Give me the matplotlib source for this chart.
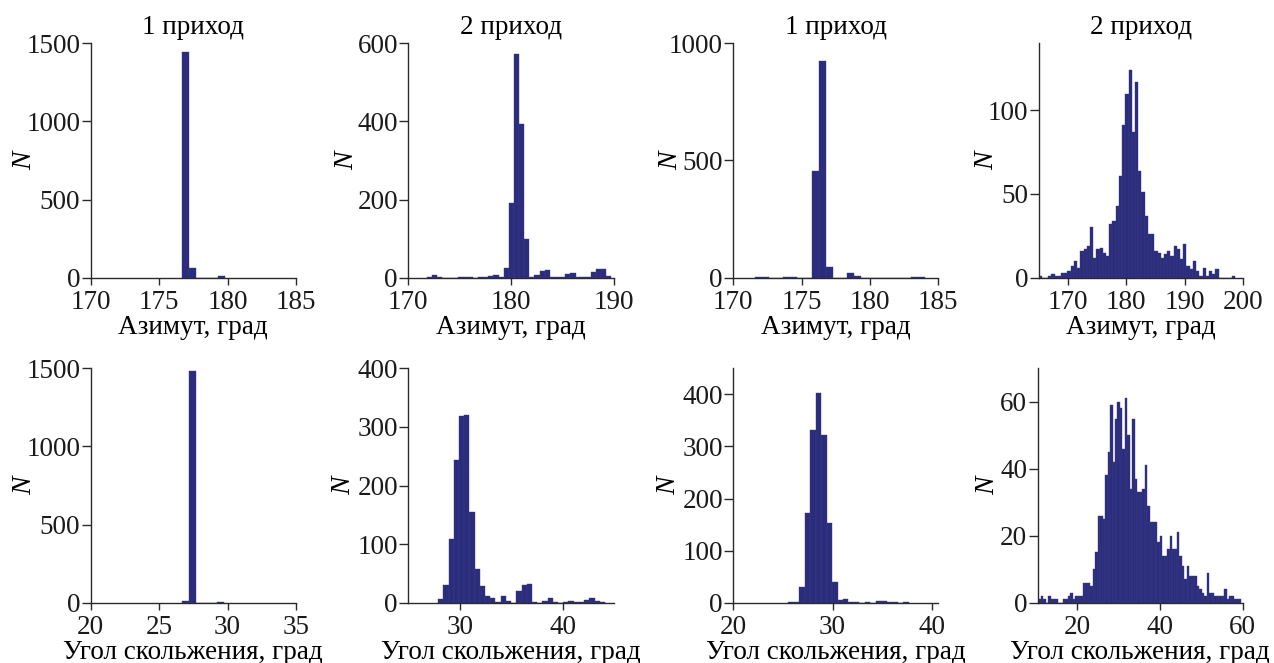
import numpy as np
import matplotlib
matplotlib.use("Agg")
import matplotlib.pyplot as plt

plt.rcParams['font.family'] = ['Liberation Serif', 'DejaVu Serif']
plt.rcParams['font.size'] = 19.5

# ---------------- data (bin start, bin width, counts) ----------------
# Top row: azimuth, deg
az1_start, az1_width = 176.68, 0.52
az1_counts = [1443, 60, 0, 0, 0, 10]

az2_start, az2_width = 171.8, 0.5
az2_counts = [2, 6, 1, 0, 0, 0, 1, 3, 1, 0, 1, 3, 4, 6, 2, 26, 190, 572, 394, 99,
              2, 6, 18, 20, 3, 1, 1, 10, 13, 2, 1, 1, 14, 23, 22, 4]

az3_start, az3_width = 171.57, 0.52
az3_counts = [1, 1, 0, 0, 1, 1, 0, 0, 457, 925, 47, 0, 0, 18, 7, 0, 0, 0, 0, 0,
              0, 0, 3, 2]

az4_start, az4_width = 165.0, 0.55
az4_counts = [1, 0, 0, 1, 2, 1, 1, 3, 3, 4, 7, 10, 6, 16, 17, 19, 30, 12, 17, 18,
              15, 13, 32, 34, 43, 61, 91, 110, 124, 87, 117, 64, 51, 37, 26, 26,
              16, 15, 12, 14, 16, 13, 19, 17, 11, 20, 7, 5, 10, 4, 1, 6, 1, 4, 2,
              5, 0, 0, 0, 0, 1]

# Bottom row: grazing angle, deg
gr1_start, gr1_width = 26.65, 0.52
gr1_counts = [10, 1485, 0, 0, 0, 4]

gr2_start, gr2_width = 27.9, 0.507
gr2_counts = [6, 31, 108, 244, 319, 321, 154, 57, 29, 12, 8, 1, 12, 3, 0, 20, 30,
              32, 2, 0, 3, 8, 1, 0, 2, 3, 2, 1, 4, 8, 3, 1]

gr3_start, gr3_width = 25.55, 0.55
gr3_counts = [1, 1, 31, 172, 331, 403, 321, 153, 40, 5, 8, 1, 1, 0, 1, 0, 4, 3, 1,
              1, 0, 1]

gr4_start, gr4_width = 10.5, 0.6
gr4_counts = [1, 2, 1, 0, 2, 1, 1, 1, 0, 0, 1, 1, 2, 3, 1, 2, 2, 2, 6, 6, 6, 5, 10,
              15, 26, 26, 25, 38, 45, 59, 42, 55, 60, 58, 46, 61, 50, 34, 55, 37,
              33, 33, 34, 41, 29, 24, 24, 24, 18, 20, 14, 14, 16, 20, 16, 16, 21,
              14, 11, 7, 11, 8, 8, 8, 5, 4, 3, 2, 9, 3, 3, 2, 2, 2, 2, 4, 1, 2, 2,
              1, 1, 1]

titles = ["1 приход", "2 приход", "1 приход", "2 приход"]
xlabel_top = "Азимут, град"
xlabel_bottom = "Угол скольжения, град"
ylabel = "N"

xticks_list = [[170, 175, 180, 185], [170, 180, 190], [170, 175, 180, 185], [170, 180, 190, 200],
               [20, 25, 30, 35], [30, 40], [20, 30, 40], [20, 40, 60]]
yticks_list = [[0, 500, 1000, 1500], [0, 200, 400, 600], [0, 500, 1000], [0, 50, 100],
               [0, 500, 1000, 1500], [0, 100, 200, 300, 400], [0, 100, 200, 300, 400], [0, 20, 40, 60]]
xlims = [(170, 185), (170, 190), (170, 185), (165, 200),
         (20, 35), (25, 45), (20, 40.65), (10.4, 60)]
ylims = [(0, 1500), (0, 600), (0, 1000), (0, 140),
         (0, 1500), (0, 400), (0, 450), (0, 70)]

panels = [(az1_start, az1_width, az1_counts), (az2_start, az2_width, az2_counts),
          (az3_start, az3_width, az3_counts), (az4_start, az4_width, az4_counts),
          (gr1_start, gr1_width, gr1_counts), (gr2_start, gr2_width, gr2_counts),
          (gr3_start, gr3_width, gr3_counts), (gr4_start, gr4_width, gr4_counts)]

# ---------------- layout ----------------
W, H = 1274, 663
fig = plt.figure(figsize=(W / 100, H / 100), dpi=100)

xs = [(90.7, 296), (408.3, 613.5), (733.3, 938.3), (1038.5, 1243.2),
      (90.7, 296), (408.3, 614), (733.3, 938.3), (1037.7, 1242.7)]
ys = [(43.3, 277.7)] * 4 + [(368.3, 602.7)] * 4
# distance (px) of the N label anchor to the left of the y spine
ylab_off = [53, 49, 50, 39.5, 53, 52, 52, 37]

bar_color = '#2b2d7c'
edge_color = '#3a3c8a'
spine_color = '#2a2a2a'

for i, (start, width, counts) in enumerate(panels):
    x0, x1 = xs[i]
    y0, y1 = ys[i]
    ax = fig.add_axes([x0 / W, 1 - y1 / H, (x1 - x0) / W, (y1 - y0) / H])
    edges = start + width * np.arange(len(counts))
    ax.bar(edges, counts, width=width, align='edge', color=bar_color,
           edgecolor=edge_color, linewidth=0.3, zorder=2)
    ax.set_xlim(*xlims[i])
    ax.set_ylim(*ylims[i])
    ax.set_xticks(xticks_list[i])
    ax.set_yticks(yticks_list[i])
    for s in ['top', 'right']:
        ax.spines[s].set_visible(False)
    for s in ['left', 'bottom']:
        ax.spines[s].set_color(spine_color)
        ax.spines[s].set_linewidth(1.0)
        ax.spines[s].set_zorder(3)
    ax.tick_params(axis='x', direction='out', length=5, width=1.0, color=spine_color,
                   labelsize=19.5, pad=4, labelcolor='#1a1a1a')
    ax.tick_params(axis='y', direction='out', length=6.5, width=1.0, color=spine_color,
                   labelsize=19.5, pad=1, labelcolor='#1a1a1a')
    ax.set_ylabel(ylabel, fontstyle='italic', fontsize=20)
    ax.yaxis.set_label_coords(-ylab_off[i] / (x1 - x0), 0.5)
    if i < 4:
        ax.set_title(titles[i], fontsize=19.5, pad=7)
        ax.set_xlabel(xlabel_top, fontsize=19.5, labelpad=0)
    else:
        ax.set_xlabel(xlabel_bottom, fontsize=19.5, labelpad=0)
    ax.patch.set_alpha(0)

fig.savefig("out.png", dpi=100)
